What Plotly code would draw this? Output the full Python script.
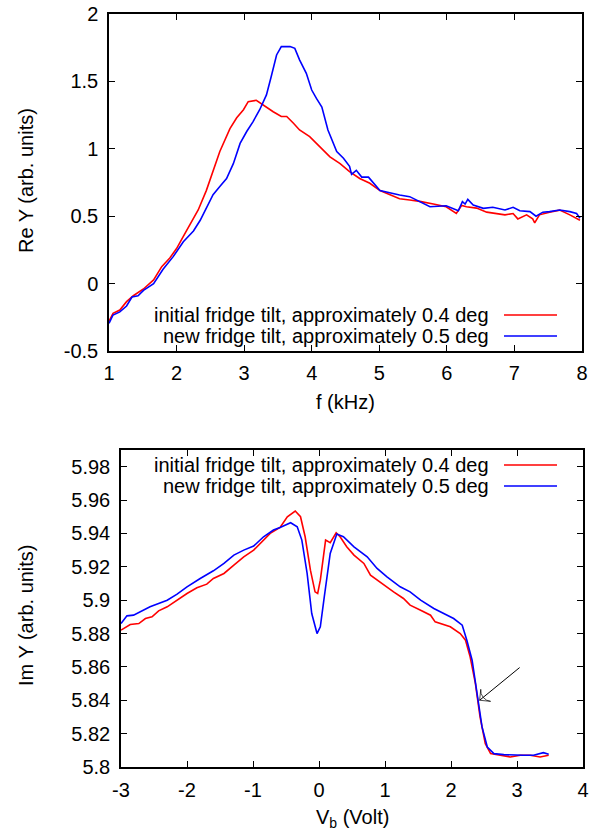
import plotly.graph_objects as go

# ---- Re Y vs frequency ----
f_initial = [1.00, 1.06, 1.16, 1.26, 1.36, 1.51, 1.66, 1.78, 1.90, 2.00, 2.10, 2.20, 2.32, 2.44,
             2.54, 2.64, 2.79, 2.89, 2.99, 3.06, 3.18, 3.28, 3.43, 3.55, 3.63, 3.73, 3.82, 3.97,
             4.12, 4.27, 4.42, 4.56, 4.71, 4.86, 5.01, 5.16, 5.30, 5.45, 5.60, 5.80, 5.99, 6.14,
             6.22, 6.29, 6.44, 6.59, 6.73, 6.86, 6.98, 7.05, 7.18, 7.27, 7.30, 7.37, 7.52, 7.67,
             7.82, 7.97]
re_initial = [-0.28, -0.22, -0.196, -0.134, -0.09, -0.04, 0.027, 0.126, 0.19, 0.26, 0.35, 0.435,
              0.546, 0.69, 0.84, 0.98, 1.15, 1.23, 1.29, 1.35, 1.36, 1.325, 1.275, 1.24, 1.24,
              1.19, 1.14, 1.09, 1.016, 0.94, 0.89, 0.83, 0.78, 0.744, 0.69, 0.657, 0.63, 0.62,
              0.61, 0.59, 0.57, 0.52, 0.58, 0.57, 0.56, 0.53, 0.52, 0.51, 0.52, 0.48, 0.51, 0.48,
              0.45, 0.51, 0.53, 0.545, 0.51, 0.47]

f_new = [1.00, 1.06, 1.16, 1.26, 1.34, 1.43, 1.51, 1.66, 1.80, 1.95, 2.10, 2.25, 2.35, 2.44,
         2.54, 2.64, 2.74, 2.84, 2.94, 3.04, 3.13, 3.23, 3.33, 3.40, 3.48, 3.55, 3.68, 3.75,
         3.82, 3.92, 4.00, 4.07, 4.15, 4.24, 4.37, 4.47, 4.56, 4.59, 4.66, 4.74, 4.84, 5.01,
         5.16, 5.30, 5.45, 5.60, 5.75, 5.99, 6.17, 6.23, 6.27, 6.31, 6.39, 6.54, 6.68, 6.86,
         6.98, 7.08, 7.23, 7.32, 7.42, 7.52, 7.67, 7.82, 7.92, 7.97]
re_new = [-0.295, -0.233, -0.21, -0.166, -0.10, -0.09, -0.05, 0.0, 0.106, 0.20, 0.31, 0.39,
          0.47, 0.56, 0.66, 0.72, 0.78, 0.89, 1.04, 1.13, 1.20, 1.29, 1.40, 1.535, 1.696,
          1.758, 1.758, 1.745, 1.66, 1.56, 1.436, 1.374, 1.31, 1.14, 0.98, 0.93, 0.87, 0.81,
          0.84, 0.79, 0.79, 0.69, 0.67, 0.657, 0.645, 0.61, 0.57, 0.578, 0.54, 0.608, 0.59,
          0.625, 0.583, 0.558, 0.566, 0.546, 0.566, 0.54, 0.534, 0.50, 0.53, 0.534, 0.546,
          0.534, 0.52, 0.485]

# ---- Im Y vs bias voltage ----
vb_initial = [-3.00, -2.86, -2.73, -2.63, -2.53, -2.43, -2.30, -2.15, -2.00, -1.85, -1.70, -1.60,
              -1.44, -1.29, -1.14, -0.99, -0.84, -0.74, -0.59, -0.48, -0.36, -0.28, -0.21, -0.13,
              -0.06, -0.02, 0.02, 0.10, 0.17, 0.26, 0.32, 0.42, 0.53, 0.68, 0.78, 0.88, 1.03,
              1.13, 1.28, 1.38, 1.54, 1.69, 1.76, 1.99, 2.14, 2.22, 2.29, 2.37, 2.44, 2.52, 2.60,
              2.75, 2.90, 3.05, 3.20, 3.35, 3.48]
im_initial = [5.882, 5.8854, 5.886, 5.889, 5.890, 5.8936, 5.896, 5.900, 5.904, 5.9074, 5.9096,
              5.913, 5.916, 5.921, 5.926, 5.930, 5.936, 5.940, 5.9436, 5.950, 5.9534, 5.950,
              5.938, 5.918, 5.905, 5.904, 5.912, 5.936, 5.9344, 5.9404, 5.938, 5.932, 5.927,
              5.922, 5.915, 5.912, 5.908, 5.905, 5.901, 5.897, 5.894, 5.891, 5.887, 5.884, 5.880,
              5.876, 5.866, 5.850, 5.830, 5.814, 5.808, 5.807, 5.806, 5.807, 5.807, 5.806, 5.807]

vb_new = [-3.00, -2.91, -2.81, -2.66, -2.56, -2.43, -2.30, -2.15, -2.00, -1.80, -1.60, -1.44,
          -1.29, -1.14, -0.99, -0.84, -0.69, -0.59, -0.43, -0.33, -0.26, -0.18, -0.11, -0.03,
          0.02, 0.08, 0.17, 0.27, 0.37, 0.53, 0.73, 0.88, 1.03, 1.23, 1.38, 1.54, 1.74, 1.89,
          2.04, 2.17, 2.24, 2.32, 2.39, 2.47, 2.55, 2.65, 2.80, 2.95, 3.10, 3.25, 3.40, 3.48]
im_new = [5.886, 5.8906, 5.891, 5.894, 5.896, 5.898, 5.900, 5.9036, 5.908, 5.913, 5.9176, 5.922,
          5.927, 5.930, 5.9324, 5.938, 5.942, 5.9436, 5.9464, 5.944, 5.936, 5.916, 5.892, 5.880,
          5.884, 5.902, 5.928, 5.9396, 5.938, 5.932, 5.926, 5.919, 5.914, 5.908, 5.905, 5.900,
          5.895, 5.892, 5.889, 5.885, 5.876, 5.864, 5.844, 5.824, 5.812, 5.808, 5.8074, 5.807,
          5.807, 5.807, 5.8086, 5.8076]

legend_labels = ["initial fridge tilt, approximately 0.4 deg",
                 "new fridge tilt, approximately 0.5 deg"]
f_ticks = [1, 2, 3, 4, 5, 6, 7, 8]
re_ticks = [-0.5, 0, 0.5, 1, 1.5, 2]
vb_ticks = [-3, -2, -1, 0, 1, 2, 3, 4]
im_ticks = [5.8, 5.82, 5.84, 5.86, 5.88, 5.9, 5.92, 5.94, 5.96, 5.98]

# arrow pointing at the step edge (tail -> head)
arrow_x = [3.04, 2.434]
arrow_y = [5.8596, 5.840]

W, H = 609, 832
RED, BLUE = "#ff0000", "#0000ff"
FONT = dict(family="Liberation Sans, Arial, sans-serif", size=20, color="black")


def px(x):
    return x / W


def py(y):
    return 1 - y / H


def labels(vals):
    # plain hyphen-minus, as gnuplot prints it
    return [f"{v:g}" for v in vals]


fig = go.Figure()
lw = 1.6
fig.add_trace(go.Scatter(x=f_initial, y=re_initial, mode="lines", line=dict(color=RED, width=lw),
                         xaxis="x", yaxis="y", showlegend=False))
fig.add_trace(go.Scatter(x=f_new, y=re_new, mode="lines", line=dict(color=BLUE, width=lw),
                         xaxis="x", yaxis="y", showlegend=False))
fig.add_trace(go.Scatter(x=vb_initial, y=im_initial, mode="lines", line=dict(color=RED, width=lw),
                         xaxis="x2", yaxis="y2", showlegend=False))
fig.add_trace(go.Scatter(x=vb_new, y=im_new, mode="lines", line=dict(color=BLUE, width=lw),
                         xaxis="x2", yaxis="y2", showlegend=False))

# arrow: thin black line with an open head at the last point
fig.add_trace(go.Scatter(x=arrow_x, y=arrow_y, mode="lines+markers", xaxis="x2", yaxis="y2",
                         line=dict(color="black", width=1), showlegend=False,
                         marker=dict(symbol=["circle", "arrow-wide-open"], size=[0, 11],
                                     angleref="previous", color="black",
                                     line=dict(color="black", width=1))))

axis_common = dict(showline=True, linecolor="black", linewidth=1.5, mirror="allticks",
                   ticks="inside", ticklen=6, tickwidth=1, tickcolor="black",
                   showgrid=False, zeroline=False, tickfont=FONT, automargin=False)

fig.update_layout(
    width=W, height=H,
    margin=dict(l=0, r=0, t=0, b=0),
    paper_bgcolor="white", plot_bgcolor="white",
    font=FONT,
    xaxis=dict(axis_common, domain=[px(109), px(582)], range=[1, 8], tickvals=f_ticks,
               ticktext=labels(f_ticks), ticklabelstandoff=3, anchor="y"),
    yaxis=dict(axis_common, domain=[py(351), py(14)], range=[-0.5, 2], tickvals=re_ticks,
               ticktext=labels(re_ticks), ticklabelstandoff=5, anchor="x"),
    xaxis2=dict(axis_common, domain=[px(121), px(583)], range=[-3, 4], tickvals=vb_ticks,
                ticktext=labels(vb_ticks), ticklabelstandoff=4, anchor="y2"),
    yaxis2=dict(axis_common, domain=[py(767), py(450)], range=[5.8, 5.99], tickvals=im_ticks,
                ticktext=labels(im_ticks), ticklabelstandoff=5, anchor="x2"),
)

# axis titles
titles = [("f (kHz)", 345, 402, 0), ("Re Y (arb. units)", 26, 181, -90),
          ("V<sub>b</sub> (Volt)", 352, 818, 0), ("Im Y (arb. units)", 26, 615, -90)]
for text, tx, ty, ang in titles:
    fig.add_annotation(x=px(tx), y=py(ty), xref="paper", yref="paper", text=text,
                       showarrow=False, xanchor="center", yanchor="middle",
                       textangle=ang, font=FONT)

# gnuplot-style key: right-aligned text followed by a line sample
key_rows = [(315, 336), (465, 486)]
colors = [RED, BLUE]
for rows in key_rows:
    for label, color, yrow in zip(legend_labels, colors, rows):
        fig.add_annotation(x=px(491), y=py(yrow), xref="paper", yref="paper", text=label,
                           showarrow=False, xanchor="right", yanchor="middle", font=FONT)
        fig.add_shape(type="line", xref="paper", yref="paper", x0=px(504), x1=px(557),
                      y0=py(yrow), y1=py(yrow), line=dict(color=color, width=lw))

fig.write_html("out.html")
